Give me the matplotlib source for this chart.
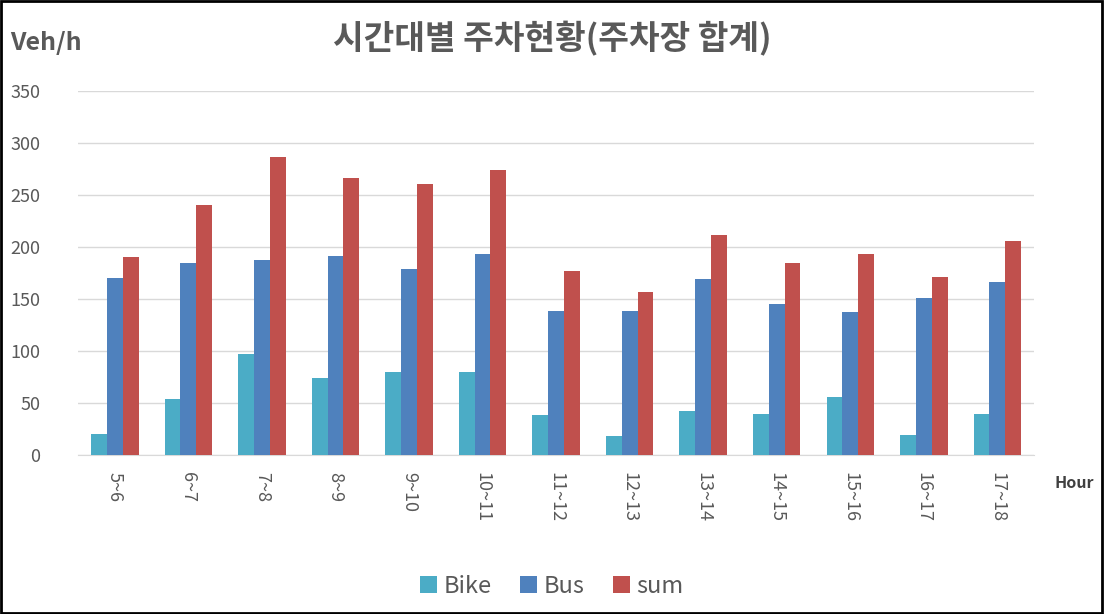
import matplotlib
matplotlib.use("Agg")
import matplotlib.pyplot as plt
import numpy as np

plt.rcParams['font.family'] = ['Noto Sans CJK KR', 'DejaVu Sans']

hours = ["5~6", "6~7", "7~8", "8~9", "9~10", "10~11", "11~12",
         "12~13", "13~14", "14~15", "15~16", "16~17", "17~18"]
bike = [20, 54, 97, 74, 80, 80, 38, 18, 42, 39, 56, 19, 39]
bus = [170, 185, 187, 191, 179, 193, 138, 138, 169, 145, 137, 151, 166]
total = [190, 240, 286, 266, 260, 274, 177, 157, 211, 185, 193, 171, 206]

series = [("Bike", bike, "#4BACC6"), ("Bus", bus, "#4F81BD"), ("sum", total, "#C0504D")]

fig = plt.figure(figsize=(11.04, 6.14), dpi=100)
ax = fig.add_axes([0.0707, 0.259, 0.866, 0.593])

x = np.arange(len(hours))
w = 0.215
for i, (name, vals, col) in enumerate(series):
    ax.bar(x + (i - 1) * w, vals, w, color=col, label=name, zorder=3)

ax.set_xlim(-0.5, len(hours) - 0.5)
ax.set_ylim(0, 350)
ax.set_yticks(range(0, 351, 50))
ax.grid(axis="y", color="#D9D9D9", linewidth=1, zorder=0)
for s in ["top", "right", "left"]:
    ax.spines[s].set_visible(False)
ax.spines["bottom"].set_color("#D9D9D9")
ax.tick_params(axis="both", length=0, colors="#595959", labelsize=13)
ax.tick_params(axis="y", pad=27)
ax.set_xticks(x)
ax.set_xticklabels(hours, rotation=270, va="top", ha="center")
ax.tick_params(axis="x", pad=12)

fig.text(0.5, 0.937, "시간대별 주차현황(주차장 합계)", ha="center", va="center",
         fontsize=24, fontweight="bold", color="#595959")
fig.text(0.009, 0.93, "Veh/h", ha="left", va="center",
         fontsize=18, fontweight="bold", color="#595959")
fig.text(0.955, 0.213, "Hour", ha="left", va="center",
         fontsize=11.5, fontweight="bold", color="#404040")

fig.legend(loc="center", bbox_to_anchor=(0.5, 0.045), ncol=3, frameon=False,
           fontsize=17, handlelength=0.7, handleheight=0.7, handletextpad=0.3,
           columnspacing=1.2, labelcolor="#595959")

# outer frame
fig.patches.append(plt.Rectangle((0.001, 0.002), 0.997, 0.996, transform=fig.transFigure,
                                 fill=False, edgecolor="black", linewidth=2))

plt.savefig("out.png", dpi=100)
